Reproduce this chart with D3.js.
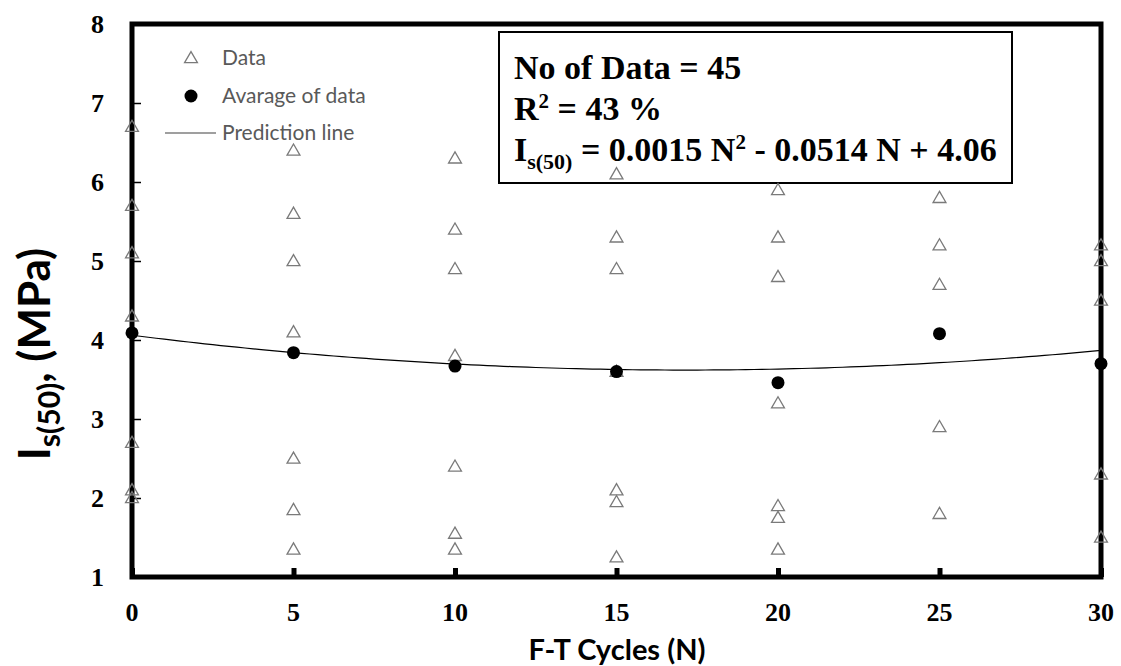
<!DOCTYPE html>
<html>
<head>
<meta charset="utf-8">
<script src="https://cdn.jsdelivr.net/npm/d3@7"></script>
<style>
	body { margin: 0; background: #fff; }
	svg { display: block; }
</style>
</head>
<body>
<svg id="chart" width="1121" height="666"></svg>
<script>
// data
var cycles = [0, 5, 10, 15, 20, 25, 30];
var dataValues = [
	[6.7, 5.7, 5.1, 4.3, 2.7, 2.1, 2.0],
	[6.4, 5.6, 5.0, 4.1, 2.5, 1.85, 1.35],
	[6.3, 5.4, 4.9, 3.8, 2.4, 1.55, 1.35],
	[6.1, 5.3, 4.9, 3.6, 2.1, 1.95, 1.25],
	[5.9, 5.3, 4.8, 3.2, 1.9, 1.75, 1.35],
	[5.8, 5.2, 4.7, 2.9, 1.8],
	[5.2, 5.0, 4.5, 2.3, 1.5]
];
var averages = [4.09, 3.84, 3.67, 3.6, 3.46, 4.08, 3.7];
var fitCoef = [0.0015, -0.0514, 4.06];
var xTicks = [0, 5, 10, 15, 20, 25, 30];
var yTicks = [1, 2, 3, 4, 5, 6, 7, 8];

(function() {

var svg = d3.select("#chart");
var pLeft = 132, pRight = 1101, pTop = 24, pBottom = 577;

var x = d3.scaleLinear().domain([0, 30]).range([pLeft, pRight]);
var y = d3.scaleLinear().domain([1, 8]).range([pBottom, pTop]);

var serif = "'Liberation Serif', 'Times New Roman', serif";
var sans = "Lato, 'Open Sans', sans-serif";

// prediction line
var fitN = d3.range(0, 30.01, 0.25);
var line = d3.line()
	.x(function(n) { return x(n); })
	.y(function(n) { return y(fitCoef[0] * n * n + fitCoef[1] * n + fitCoef[2]); });
svg.append("path").datum(fitN)
	.attr("d", line).attr("fill", "none").attr("stroke", "#000").attr("stroke-width", 1.2);

// equation box (points are drawn over it)
svg.append("rect").attr("x", 499).attr("y", 32).attr("width", 513).attr("height", 151)
	.attr("fill", "#fff").attr("stroke", "#000").attr("stroke-width", 2);
var eq = svg.append("g").attr("font-family", serif).attr("font-weight", "bold")
	.attr("font-size", 34).attr("fill", "#000");
eq.append("text").attr("x", 514).attr("y", 79).text("No of Data = 45");
var r2 = eq.append("text").attr("x", 514).attr("y", 120);
r2.append("tspan").text("R");
r2.append("tspan").attr("font-size", 21).attr("dy", -12).text("2");
r2.append("tspan").attr("dy", 12).text(" = 43 %");
var f = eq.append("text").attr("x", 514).attr("y", 161);
f.append("tspan").text("I");
f.append("tspan").attr("font-size", 22).attr("dy", 8).text("s(50)");
f.append("tspan").attr("dy", -8).text(" = " + fitCoef[0] + " N");
f.append("tspan").attr("font-size", 21).attr("dy", -12).text("2");
f.append("tspan").attr("dy", 12).text(" - " + Math.abs(fitCoef[1]) + " N + " + fitCoef[2].toFixed(2));

// frame
svg.append("rect")
	.attr("x", pLeft).attr("y", pTop)
	.attr("width", pRight - pLeft).attr("height", pBottom - pTop)
	.attr("fill", "none").attr("stroke", "#000").attr("stroke-width", 5);

// y axis ticks (thin, inward)
var yAxis = d3.axisRight(y).tickValues(yTicks).tickSize(9).tickFormat("");
var gy = svg.append("g").attr("transform", "translate(" + pLeft + ",0)").call(yAxis);
gy.select(".domain").remove();
gy.selectAll("line").attr("stroke", "#000").attr("stroke-width", 1.5);

svg.selectAll(".ylab").data(yTicks).enter().append("text")
	.attr("x", 104).attr("y", function(d) { return y(d); })
	.attr("dy", "0.35em").attr("text-anchor", "end")
	.attr("font-family", serif).attr("font-weight", "bold").attr("font-size", 26)
	.text(function(d) { return d; });

// x axis ticks (thick, inward)
var xAxis = d3.axisTop(x).tickValues(xTicks).tickSize(9).tickFormat("");
var gx = svg.append("g").attr("transform", "translate(0," + pBottom + ")").call(xAxis);
gx.select(".domain").remove();
gx.selectAll("line").attr("stroke", "#000").attr("stroke-width", 5);

svg.selectAll(".xlab").data(xTicks).enter().append("text")
	.attr("x", function(d) { return x(d); }).attr("y", 621)
	.attr("text-anchor", "middle")
	.attr("font-family", serif).attr("font-weight", "bold").attr("font-size", 26)
	.text(function(d) { return d; });

// data triangles
var pts = [];
cycles.forEach(function(c, i) {
	dataValues[i].forEach(function(v) { pts.push({ n: c, v: v }); });
});
var tri = d3.symbol().type(d3.symbolTriangle).size(72);
svg.selectAll(".pt").data(pts).enter().append("path")
	.attr("d", tri)
	.attr("transform", function(d) { return "translate(" + x(d.n) + "," + (y(d.v) + 1) + ")"; })
	.attr("fill", "none").attr("stroke", "#7a7a7a").attr("stroke-width", 1.3);

// averages
svg.selectAll(".avg").data(averages).enter().append("circle")
	.attr("cx", function(d, i) { return x(cycles[i]); })
	.attr("cy", function(d) { return y(d); })
	.attr("r", 6.5).attr("fill", "#000");

// legend
var lg = svg.append("g").attr("font-family", sans).attr("font-size", 21).attr("fill", "#595959");
lg.append("path").attr("d", tri).attr("transform", "translate(191,59)")
	.attr("fill", "none").attr("stroke", "#7a7a7a").attr("stroke-width", 1.3);
lg.append("text").attr("x", 222).attr("y", 58).attr("dy", "0.35em").text("Data");
lg.append("circle").attr("cx", 191).attr("cy", 96).attr("r", 6.5).attr("fill", "#000");
lg.append("text").attr("x", 222).attr("y", 96).attr("dy", "0.35em").text("Avarage of data");
lg.append("line").attr("x1", 165).attr("x2", 216).attr("y1", 133).attr("y2", 133)
	.attr("stroke", "#404040").attr("stroke-width", 1.2);
lg.append("text").attr("x", 222).attr("y", 133).attr("dy", "0.35em").text("Prediction line");

// axis titles
svg.append("text").attr("x", 617).attr("y", 660).attr("text-anchor", "middle")
	.attr("font-family", sans).attr("font-weight", "bold").attr("font-size", 29)
	.text("F-T Cycles (N)");
var yt = svg.append("text").attr("transform", "translate(50,354) rotate(-90)")
	.attr("text-anchor", "middle")
	.attr("font-family", sans).attr("font-weight", "bold").attr("font-size", 44);
yt.append("tspan").text("I");
yt.append("tspan").attr("font-size", 30).attr("dy", 10).text("s(50)");
yt.append("tspan").attr("dy", -10).text(", (MPa)");

})();
</script>
</body>
</html>
